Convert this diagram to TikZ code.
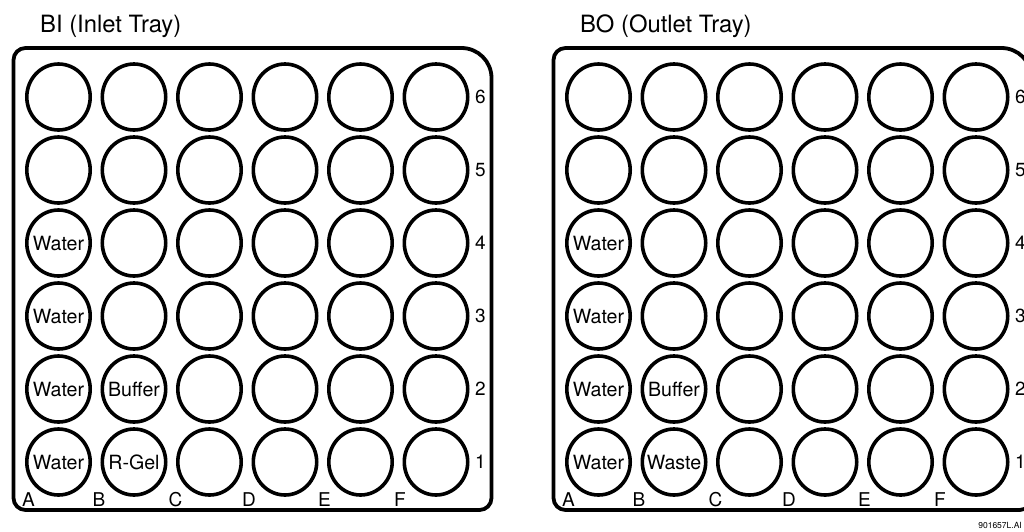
\documentclass[tikz,border=0pt]{standalone}
\usepackage{fontspec}
\setmainfont{TeX Gyre Heros}
\usepackage{tikz}
\usetikzlibrary{positioning,shapes.geometric,calc}

\begin{document}
\begin{tikzpicture}[
  x=1pt, y=-1pt,
  well/.style={draw, ellipse, line width=3.6pt, minimum width=63.4pt, minimum height=66pt, inner sep=0pt},
  tray/.style={draw, line width=3.8pt},
  welltext/.style={font=\fontsize{19.6}{22}\selectfont, inner sep=0pt},
  lbl/.style={font=\fontsize{19}{22}\selectfont, inner sep=0pt},
  title/.style={font=\fontsize{23.8}{28}\selectfont, inner sep=0pt, anchor=base west}
]
\useasboundingbox (0,0) rectangle (1024,531);
\clip (0,0) rectangle (1024,531);

% both trays: frame, wells, row and column labels
\foreach \t/\ox/\name in {bi/0/BI (Inlet Tray), bo/540/BO (Outlet Tray)} {
  \node[title] (\t-title) at (40+\ox,32) {\name};
  \draw[tray] (13.5+\ox,60) arc (180:270:12) -- (461.5+\ox,48) arc (270:360:30)
    -- (491.5+\ox,498) arc (0:90:12) -- (25.5+\ox,510) arc (90:180:12) -- cycle;
  \foreach \c [count=\i] in {A,B,C,D,E,F} {
    \foreach \r in {1,...,6} {
      \node[well] (\t-\c\r) at ({58.5+75.5*(\i-1)+\ox},{462-73*(\r-1)}) {};
    }
  }
  \foreach \r in {1,...,6} {
    \node[lbl, anchor=west, right=5.5pt of \t-F\r] (\t-row\r) {\r};
  }
  \foreach \c/\dx in {A/-30,B/-35,C/-34,D/-36,E/-36,F/-36} {
    \node[lbl] (\t-col\c) at ($(\t-\c1)+(\dx,38)$) {\c};
  }
}

% inlet tray contents
\node[welltext] at (bi-A4) {Water};
\node[welltext] at (bi-A3) {Water};
\node[welltext] at (bi-A2) {Water};
\node[welltext] at (bi-A1) {Water};
\node[welltext] at (bi-B2) {Buffer};
\node[welltext] at (bi-B1) {R-Gel};

% outlet tray contents
\node[welltext] at (bo-A4) {Water};
\node[welltext] at (bo-A3) {Water};
\node[welltext] at (bo-A2) {Water};
\node[welltext] at (bo-A1) {Water};
\node[welltext] at (bo-B2) {Buffer};
\node[welltext] at (bo-B1) {Waste};

\node[font=\fontsize{8.5}{10}\selectfont, inner sep=0pt, anchor=south east] (fileid) at (1022,529) {901657L.AI};
\end{tikzpicture}
\end{document}
